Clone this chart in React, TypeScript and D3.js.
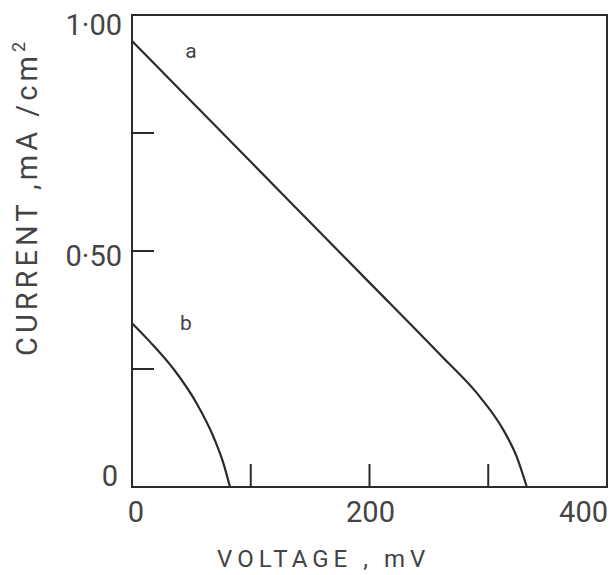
import React from "react";
import * as d3 from "d3";

const curveAVoltage = [0, 100, 200, 260, 293, 312.7, 324, 332.5];
const curveACurrent = [0.945, 0.689, 0.433, 0.279, 0.191, 0.121, 0.064, 0];
const curveBVoltage = [0, 15, 35, 54.5, 68.5, 77, 82.5];
const curveBCurrent = [0.347, 0.308, 0.25, 0.177, 0.107, 0.05, 0];
const xTickValues = [100, 200, 300];
const yTickValues = [0.25, 0.5, 0.75];
const xLabelValues = [0, 200, 400];
const yLabelValues = [0, 0.5, 1.0];
const yLabelTexts = ["0", "0·50", "1·00"];

const W = 615, H = 575;
const L = 132, R = 607, T = 15, B = 487;
const ink = "#2b2b2b";
const textInk = "#444";
const font = "Roboto, 'DejaVu Sans', sans-serif";
const yLabelShift = [-1, 15, 20];

export default function App() {
  const x = d3.scaleLinear().domain([0, 400]).range([L, R]);
  const y = d3.scaleLinear().domain([0, 1]).range([B, T]);
  const line = d3.line<[number, number]>()
    .x(d => x(d[0]))
    .y(d => y(d[1]))
    .curve(d3.curveMonotoneX);
  const a = curveAVoltage.map((v, i) => [v, curveACurrent[i]] as [number, number]);
  const b = curveBVoltage.map((v, i) => [v, curveBCurrent[i]] as [number, number]);
  return (
    <svg width={W} height={H} style={{ position: "absolute", left: 0, top: 0, background: "#fff" }}>
      <rect x={L} y={T} width={R - L} height={B - T} fill="none" stroke={ink} strokeWidth={2} />
      {xTickValues.map(v => (
        <line key={"xt" + v} x1={x(v)} x2={x(v)} y1={B} y2={B - 23} stroke={ink} strokeWidth={2} />
      ))}
      {yTickValues.map(v => (
        <line key={"yt" + v} x1={L} x2={L + 22} y1={y(v)} y2={y(v)} stroke={ink} strokeWidth={2} />
      ))}
      <path d={line(a) || ""} fill="none" stroke={ink} strokeWidth={2.2} />
      <path d={line(b) || ""} fill="none" stroke={ink} strokeWidth={2.2} />
      {xLabelValues.map((v, i) => (
        <text key={"xl" + v} x={i === 2 ? R + 1 : x(v) + (i === 0 ? 4 : 1)} y={522} fontSize={29} fontFamily={font}
          fill={textInk} textAnchor={i === 2 ? "end" : "middle"}>{v}</text>
      ))}
      {yLabelValues.map((v, i) => (
        <text key={"yl" + v} x={i === 0 ? 118 : 122} y={y(v) + yLabelShift[i]} fontSize={29} fontFamily={font}
          fill={textInk} textAnchor="end">{yLabelTexts[i]}</text>
      ))}
      <text x={217} y={567} fontSize={24} fontFamily={font} fill={textInk} letterSpacing={5}>VOLTAGE , mV</text>
      <text transform={`translate(37, 356) rotate(-90)`} fontSize={29} fontFamily={font} fill={textInk} letterSpacing={4}>
        CURRENT ,mA /cm<tspan dy={-12} fontSize={18}>2</tspan>
      </text>
      <text x={191} y={58} fontSize={21} fontFamily={font} fill={textInk} textAnchor="middle">a</text>
      <text x={186} y={330} fontSize={21} fontFamily={font} fill={textInk} textAnchor="middle">b</text>
    </svg>
  );
}
